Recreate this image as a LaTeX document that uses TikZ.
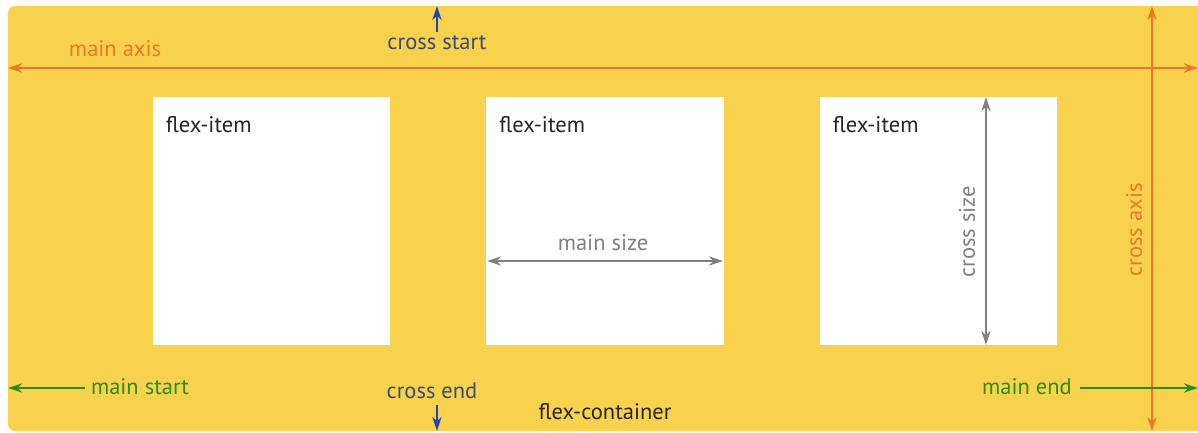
\documentclass[tikz,border=0pt]{standalone}
\usepackage{fontspec}
\setmainfont{PT Sans}
\usetikzlibrary{arrows.meta,positioning}

\definecolor{flexyellow}{RGB}{248,210,77}
\definecolor{axisorange}{RGB}{238,118,42}
\definecolor{edgeblue}{RGB}{30,70,180}
\definecolor{labelblue}{RGB}{55,75,115}
\definecolor{edgegreen}{RGB}{45,140,30}
\definecolor{sizegray}{RGB}{128,128,128}

\tikzset{
	item/.style = {fill = white, minimum width = 5.925cm, minimum height = 6.2cm, inner sep = 0pt},
	itemtext/.style = {text = black!85, anchor = north west, inner sep = 0pt},
	axis/.style = {<->, axisorange, line width = 1.4pt},
	edge/.style = {->, line width = 1.3pt},
	size/.style = {<->, sizegray, line width = 1.2pt},
}

\begin{document}
\begin{tikzpicture}[x = 0.025cm, y = -0.025cm, >={Stealth[length = 10pt, width = 6.5pt]}, font = \fontsize{16}{18}\selectfont]
	%	canvas
	\useasboundingbox (0, 0) rectangle (1198, 433);
	\fill[white] (0, 0) rectangle (1198, 433);
	\fill[flexyellow, rounded corners = 5pt] (8, 6) rectangle (1210, 431);

	%	flex items
	\node[item] (itemA) at (271.5, 221) {};
	\node[item] (itemB) at (605, 221) {};
	\node[item] (itemC) at (938.5, 221) {};
	\foreach \n in {A, B, C}
		\node[itemtext] (label\n) at ([xshift = 0.32cm, yshift = -0.5cm]item\n.north west) {flex-item};

	%	main axis
	\coordinate (mainL) at (8, 68);
	\coordinate (mainR) at (1198, 68);
	\draw[axis] (mainL) -- (mainR);
	\node[axisorange] (mainaxis) at (115, 49) {main axis};

	%	cross axis
	\coordinate (crossT) at (1152, 6);
	\coordinate (crossB) at (1152, 431);
	\draw[axis] (crossT) -- (crossB);
	\node[axisorange, rotate = 90] (crossaxis) at (1134, 230) {cross axis};

	%	cross start / cross end
	\node[labelblue] (crossstart) at (437, 43) {cross start};
	\coordinate (starttail) at (437, 32);
	\coordinate (topedge) at (437, 6);
	\draw[edge, edgeblue] (starttail) -- (topedge);
	\node[labelblue] (crossend) at (432, 391) {cross end};
	\coordinate (endtail) at (437, 405);
	\coordinate (bottomedge) at (437, 431);
	\draw[edge, edgeblue] (endtail) -- (bottomedge);

	%	main start / main end
	\node[edgegreen] (mainstart) at (140, 387) {main start};
	\coordinate (starthead) at (8, 388);
	\coordinate (mstail) at (85, 388);
	\draw[edge, edgegreen] (mstail) -- (starthead);
	\node[edgegreen] (mainend) at (1027, 387) {main end};
	\coordinate (metail) at (1080, 388);
	\coordinate (endhead) at (1198, 388);
	\draw[edge, edgegreen] (metail) -- (endhead);

	%	sizes
	\coordinate (msL) at (487, 261);
	\coordinate (msR) at (723, 261);
	\draw[size] (msL) -- (msR);
	\node[sizegray] (mainsize) at (603, 243) {main size};
	\coordinate (csT) at (986, 97);
	\coordinate (csB) at (986, 345);
	\draw[size] (csT) -- (csB);
	\node[sizegray, rotate = 90] (crosssize) at (967, 232) {cross size};

	%	container
	\node[black!85] (container) at (605, 412) {flex-container};
\end{tikzpicture}
\end{document}
